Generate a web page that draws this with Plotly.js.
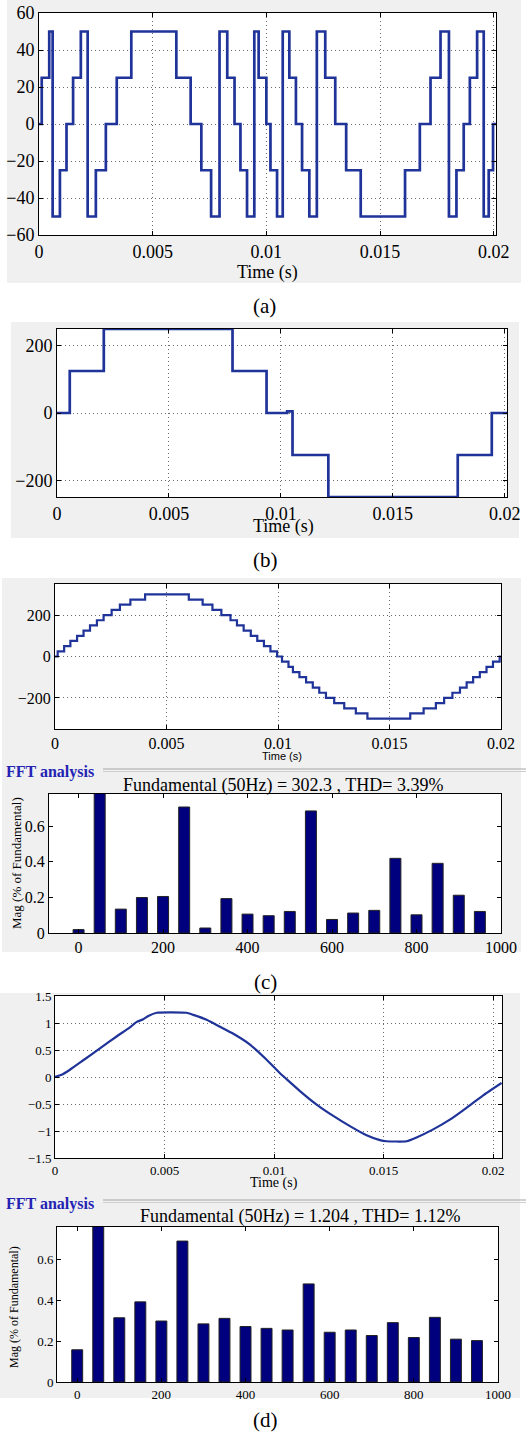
<!DOCTYPE html>
<html><head><meta charset="utf-8">
<script src="https://cdn.plot.ly/plotly-3.0.1.min.js"></script>
<style>html,body{margin:0;padding:0;background:#fff}#chart{width:526px;height:1434px}</style>
</head><body><div id="chart"></div>
<script>
// ---------- data ----------
// (a) switching instants (s) and levels
const timeA = [0, 0.00012, 0.00045, 0.0006, 0.00092, 0.00121, 0.0015, 0.00184, 0.00214, 0.0025, 0.00294, 0.00342, 0.00406, 0.00604, 0.00667, 0.00714, 0.00757, 0.00794, 0.00828, 0.0086, 0.00886, 0.00915, 0.00947, 0.00966, 0.01, 0.01018, 0.01047, 0.01072, 0.01101, 0.0113, 0.01157, 0.01189, 0.01222, 0.01259, 0.01303, 0.01351, 0.01415, 0.0161, 0.01675, 0.01722, 0.01766, 0.01803, 0.01836, 0.01868, 0.01895, 0.01927, 0.01956, 0.01978, 0.01997, 0.0201];
const levelA = [0, 25, 50, -50, -25, 0, 25, 50, -50, -25, 0, 25, 50, 25, 0, -25, -50, 50, 25, 0, -25, -50, 50, 25, 0, -25, -50, 50, 25, 0, -25, -50, 50, 25, 0, -25, -50, -25, 0, 25, 50, -50, -25, 0, 25, 50, -50, -25, 0, 0];
// (b)
const timeB = [0, 0.00057, 0.00209, 0.00784, 0.00936, 0.01028, 0.01052, 0.01212, 0.0179, 0.01942, 0.0201];
const levelB = [0, 125, 250, 125, 0, 5, -125, -250, -125, 0, 0];
// (c) staircase
const timeC = [0, 0.00012, 0.00041, 0.00069, 0.00099, 0.00128, 0.00157, 0.00188, 0.00218, 0.00254, 0.00291, 0.00338, 0.00404, 0.006, 0.00662, 0.00706, 0.00746, 0.00787, 0.00816, 0.00846, 0.00878, 0.00907, 0.00937, 0.00966, 0.00996, 0.01018, 0.01047, 0.01067, 0.01096, 0.01126, 0.01156, 0.01185, 0.01215, 0.01252, 0.01297, 0.01349, 0.01401, 0.01593, 0.01653, 0.01708, 0.01745, 0.01782, 0.01816, 0.01846, 0.01875, 0.01905, 0.01935, 0.01964, 0.01994, 0.02];
const levelC = [0, 25, 50, 75, 100, 125, 150, 175, 200, 225, 250, 275, 300, 275, 250, 225, 200, 175, 150, 125, 100, 75, 50, 25, 0, -25, -50, -75, -100, -125, -150, -175, -200, -225, -250, -275, -300, -275, -250, -225, -200, -175, -150, -125, -100, -75, -50, -25, 0, 0];
// (d) filtered output
const timeD = [0, 0.0003, 0.00068, 0.00129, 0.00205, 0.00281, 0.00342, 0.00373, 0.00403, 0.00426, 0.00464, 0.006, 0.00631, 0.00692, 0.00753, 0.00814, 0.0089, 0.00966, 0.01027, 0.01057, 0.01118, 0.01194, 0.0127, 0.01346, 0.01422, 0.01483, 0.01513, 0.01605, 0.0165, 0.01726, 0.01802, 0.01878, 0.01954, 0.02038];
const valueD = [0, 0.04, 0.135, 0.31, 0.53, 0.75, 0.92, 1.02, 1.07, 1.13, 1.19, 1.19, 1.15, 1.06, 0.93, 0.80, 0.60, 0.32, 0.07, -0.04, -0.26, -0.51, -0.72, -0.91, -1.08, -1.17, -1.19, -1.19, -1.12, -0.97, -0.79, -0.57, -0.34, -0.11];
// FFT spectra (% of fundamental; fundamental bar as drawn, cut at the frame)
const freqHz = [0, 50, 100, 150, 200, 250, 300, 350, 400, 450, 500, 550, 600, 650, 700, 750, 800, 850, 900, 950];
const magC = [0.019, 0.846, 0.134, 0.199, 0.205, 0.707, 0.028, 0.193, 0.106, 0.097, 0.121, 0.685, 0.076, 0.112, 0.127, 0.419, 0.102, 0.391, 0.212, 0.121];
const magD = [0.158, 0.824, 0.315, 0.393, 0.299, 0.691, 0.285, 0.312, 0.272, 0.263, 0.255, 0.481, 0.244, 0.255, 0.228, 0.291, 0.218, 0.317, 0.210, 0.203];
const fftTitleC = 'Fundamental (50Hz) = 302.3 , THD= 3.39%';
const fftTitleD = 'Fundamental (50Hz) = 1.204 , THD= 1.12%';
const fftHeader = 'FFT analysis';
const timeLabel = 'Time (s)';
const magLabel = 'Mag (% of Fundamental)';
const panelLabels = ['(a)', '(b)', '(c)', '(d)'];

// ---------- layout helpers (pixel -> paper) ----------
const W = 526, H = 1434;
const px = v => v / W;
const py = v => 1 - v / H;
const dx = (a, b) => [px(a), px(b)];
const dy = (top, bot) => [py(bot), py(top)];
const SERIF = 'Liberation Serif, Times New Roman, serif';
const SANS = 'Liberation Sans, Arial, sans-serif';
const LINE = '#1f3399';
const BAR = '#00007f';

function axis(domain, range, anchor, size, extra) {
  return Object.assign({
    domain: domain, range: range, anchor: anchor, autorange: false,
    showline: true, linecolor: '#000', linewidth: 1, mirror: 'ticks',
    ticks: 'inside', ticklen: 4, tickcolor: '#000', tickwidth: 1,
    zeroline: false, showgrid: false, fixedrange: true,
    tickfont: {family: SERIF, size: size, color: '#000'}
  }, extra || {});
}
const grid = {showgrid: true, gridcolor: '#6a6a6a', griddash: '1px,3px', gridwidth: 1};

const traces = [
  {x: timeA, y: levelA, type: 'scatter', mode: 'lines', line: {shape: 'hv', color: LINE, width: 2.7}, xaxis: 'x', yaxis: 'y'},
  {x: timeB, y: levelB, type: 'scatter', mode: 'lines', line: {shape: 'hv', color: LINE, width: 2.7}, xaxis: 'x2', yaxis: 'y2'},
  {x: timeC, y: levelC, type: 'scatter', mode: 'lines', line: {shape: 'hv', color: LINE, width: 2.2}, xaxis: 'x3', yaxis: 'y3'},
  {x: freqHz, y: magC, type: 'bar', width: 26, marker: {color: BAR, line: {color: '#222', width: 1}}, cliponaxis: false, xaxis: 'x4', yaxis: 'y4'},
  {x: timeD, y: valueD, type: 'scatter', mode: 'lines', line: {shape: 'spline', smoothing: 0.5, color: LINE, width: 2.2}, xaxis: 'x5', yaxis: 'y5'},
  {x: freqHz, y: magD, type: 'bar', width: 26, marker: {color: BAR, line: {color: '#222', width: 1}}, cliponaxis: false, xaxis: 'x6', yaxis: 'y6'}
];

const grayBoxes = [[7, 0, 521, 283], [11, 322, 519, 538], [2, 578, 521, 952], [0, 993, 520, 1398]];
const shapes = grayBoxes.map(b => ({type: 'rect', xref: 'paper', yref: 'paper', layer: 'below',
  x0: px(b[0]), x1: px(b[2]), y0: py(b[3]), y1: py(b[1]), fillcolor: '#f0f0f0', line: {width: 0}}));
['', '2', '3', '4', '5', '6'].forEach(s => shapes.push({type: 'rect', layer: 'below',
  xref: 'x' + s + ' domain', yref: 'y' + s + ' domain', x0: 0, x1: 1, y0: 0, y1: 1, fillcolor: '#ffffff', line: {width: 0}}));
[[769, '#a5a5a5'], [771.5, '#cfcfcf'], [1200, '#a5a5a5'], [1202.5, '#cfcfcf']].forEach(l => shapes.push({
  type: 'line', xref: 'paper', yref: 'paper', x0: px(103), x1: 1, y0: py(l[0]), y1: py(l[0]), line: {color: l[1], width: 1}}));

function ann(text, x, y, size, opts) {
  return Object.assign({text: text, x: px(x), y: py(y), xref: 'paper', yref: 'paper', showarrow: false,
    xanchor: 'center', yanchor: 'middle', font: {family: SERIF, size: size, color: '#000'}}, opts || {});
}
const annotations = [
  ann(timeLabel, 267, 272, 18),
  ann(timeLabel, 283, 527, 18),
  ann(timeLabel, 282, 756, 11, {font: {family: SANS, size: 11, color: '#000'}}),
  ann(timeLabel, 274, 1183, 14),
  ann(panelLabels[0], 264, 306, 21),
  ann(panelLabels[1], 265, 560, 21),
  ann(panelLabels[2], 265, 982, 21),
  ann(panelLabels[3], 265, 1420, 21),
  ann('<b>' + fftHeader + '</b>', 4, 772, 16, {xanchor: 'left', font: {family: SERIF, size: 16, color: '#2323b4'}}),
  ann('<b>' + fftHeader + '</b>', 4, 1204, 16, {xanchor: 'left', font: {family: SERIF, size: 16, color: '#2323b4'}}),
  ann(fftTitleC, 283, 785, 18),
  ann(fftTitleD, 300, 1216, 18),
  ann(magLabel, 16, 863, 13, {textangle: -90}),
  ann(magLabel, 14, 1307, 12, {textangle: -90})
];

const layout = {
  width: W, height: H, margin: {l: 0, r: 0, t: 0, b: 0},
  paper_bgcolor: '#ffffff', plot_bgcolor: 'rgba(0,0,0,0)', showlegend: false,
  xaxis: axis(dx(39, 496), [0, 0.0201], 'y', 18, Object.assign({dtick: 0.005, tick0: 0}, grid)),
  yaxis: axis(dy(13, 235), [-60, 60], 'x', 18, Object.assign({dtick: 20, tick0: 0}, grid)),
  xaxis2: axis(dx(57, 507), [0, 0.0201], 'y2', 18, Object.assign({dtick: 0.005, tick0: 0}, grid)),
  yaxis2: axis(dy(329, 497), [-250, 250], 'x2', 18, Object.assign({dtick: 200, tick0: 0}, grid)),
  xaxis3: axis(dx(55, 501), [0, 0.02], 'y3', 16, Object.assign({dtick: 0.005, tick0: 0}, grid)),
  yaxis3: axis(dy(584, 729), [-350, 350], 'x3', 16, Object.assign({dtick: 200, tick0: 0}, grid)),
  xaxis4: axis(dx(49, 501), [-70, 1000], 'y4', 16, {dtick: 200, tick0: 0}),
  yaxis4: axis(dy(794, 933), [0, 0.78], 'x4', 16, {dtick: 0.2, tick0: 0}),
  xaxis5: axis(dx(55, 502), [0, 0.0204], 'y5', 13, Object.assign({dtick: 0.005, tick0: 0}, grid)),
  yaxis5: axis(dy(996, 1158), [-1.5, 1.5], 'x5', 13, Object.assign({dtick: 0.5, tick0: 0}, grid)),
  xaxis6: axis(dx(57, 498), [-48, 1000], 'y6', 13, {dtick: 200, tick0: 0}),
  yaxis6: axis(dy(1227, 1382), [0, 0.76], 'x6', 13, {dtick: 0.2, tick0: 0}),
  shapes: shapes, annotations: annotations
};

Plotly.newPlot('chart', traces, layout, {staticPlot: true, displayModeBar: false});
</script></body></html>
